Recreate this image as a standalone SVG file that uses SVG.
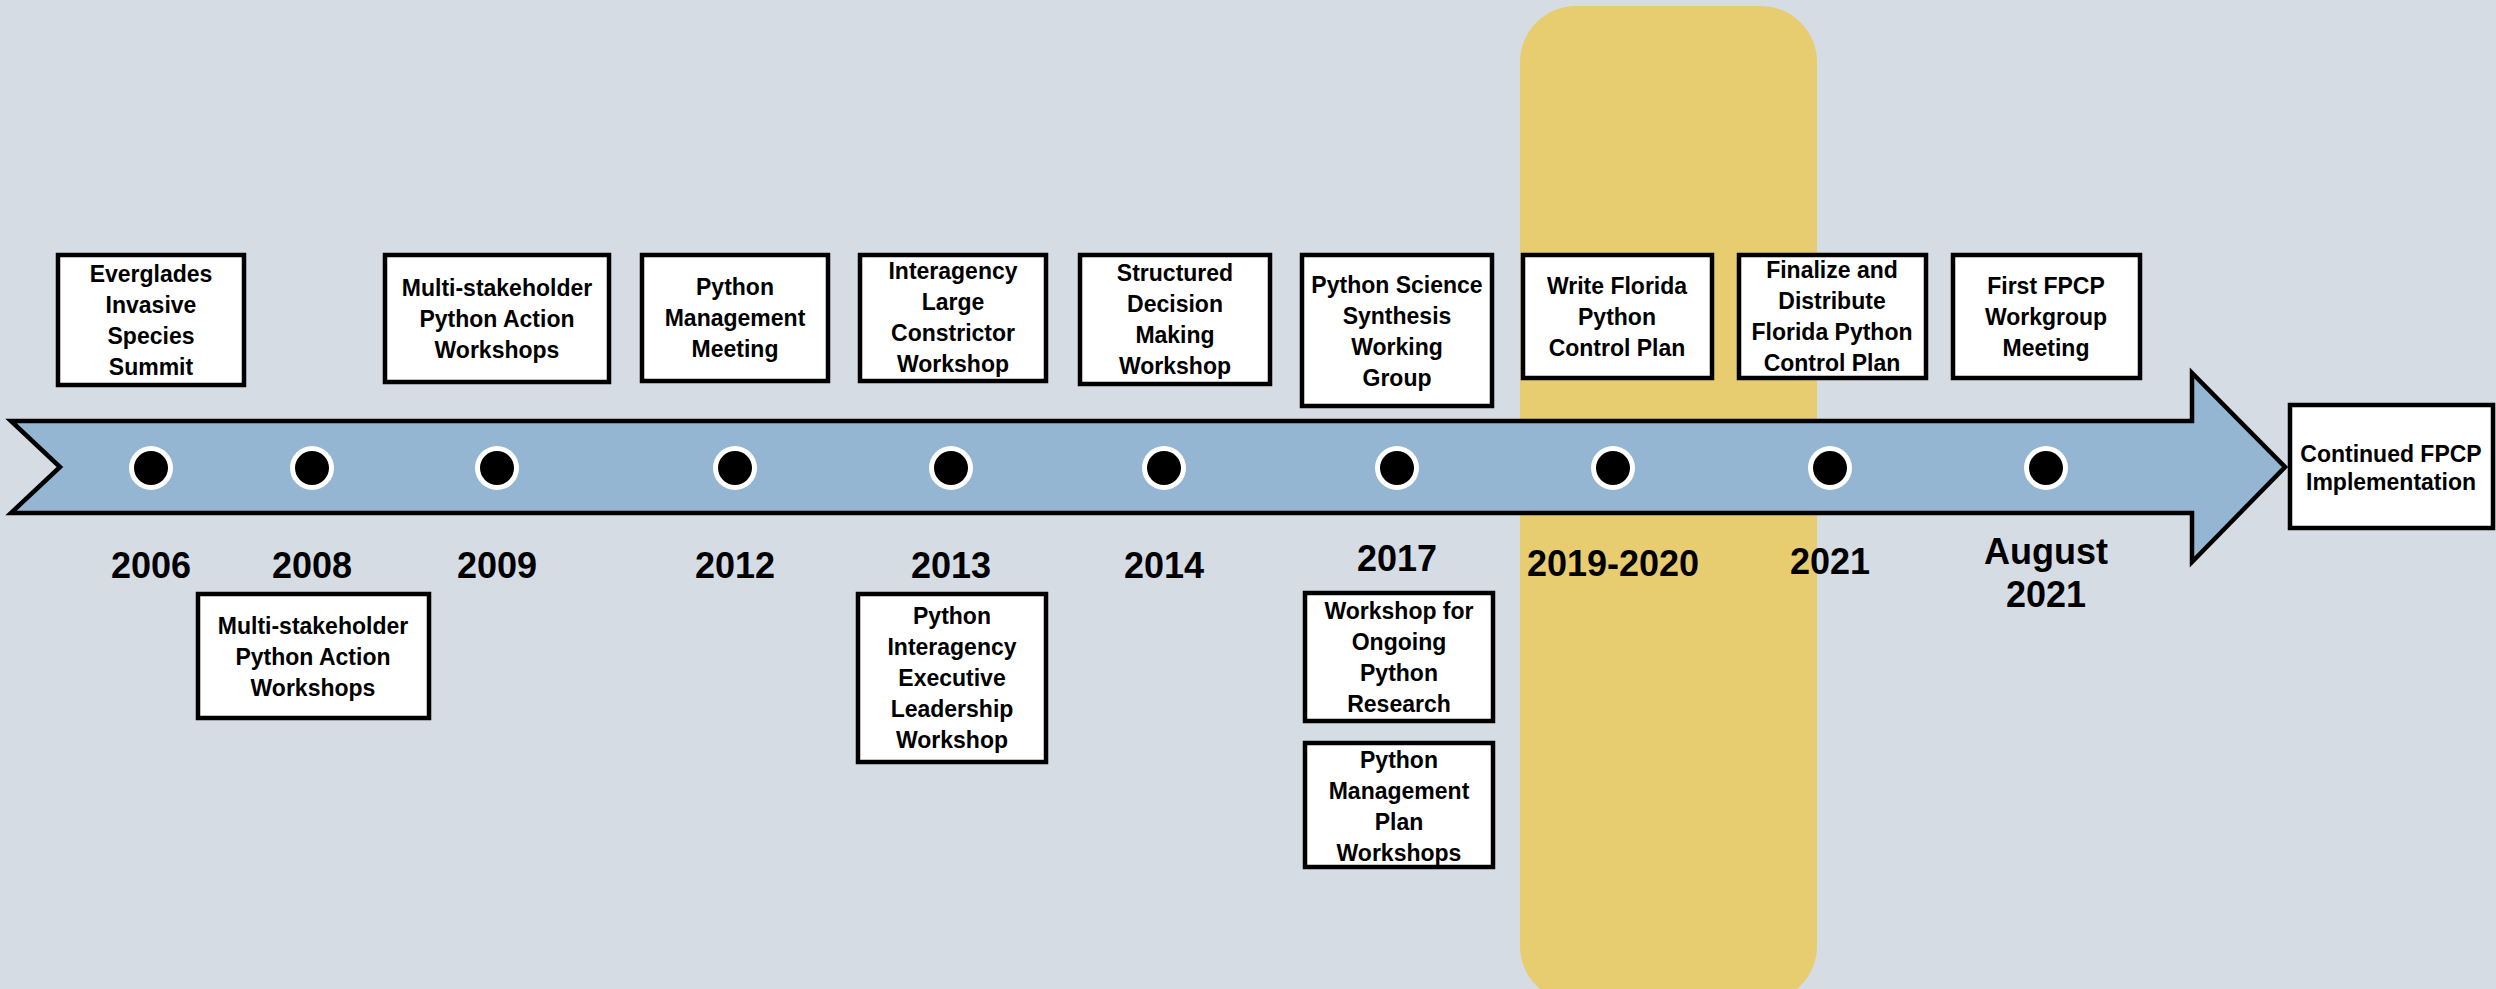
<svg xmlns="http://www.w3.org/2000/svg" width="2496" height="989" viewBox="0 0 2496 989">
<style>
.bg{fill:#D5DCE4}
.band{fill:#E7CD70}
.arrow{fill:#94B6D3;stroke:#000;stroke-width:4.5;stroke-linejoin:miter}
.box rect{fill:#fff;stroke:#000;stroke-width:4.5}
.box text,.yr{font-family:"Liberation Sans",Arial,sans-serif;font-weight:bold;fill:#000;text-anchor:middle}
.box text{font-size:23px}
.yr{font-size:36px}
.ring{fill:#fff}
.dot{fill:#000}
</style>
<rect class="bg" x="0" y="0" width="2496" height="989"/>
<rect class="band" x="1520" y="6" width="297" height="996" rx="56" ry="56"/>

<g id="connectors">
<polygon class="arrow" points="11,421 2192,421 2192,373 2285,467 2192,562 2192,513 11,513 60,467"/>
</g>

<g id="dots">
<g id="dot-2006"><circle class="ring" cx="151" cy="468" r="22"/><circle class="dot" cx="151" cy="468" r="17"/></g>
<g id="dot-2008"><circle class="ring" cx="312" cy="468" r="22"/><circle class="dot" cx="312" cy="468" r="17"/></g>
<g id="dot-2009"><circle class="ring" cx="497" cy="468" r="22"/><circle class="dot" cx="497" cy="468" r="17"/></g>
<g id="dot-2012"><circle class="ring" cx="735" cy="468" r="22"/><circle class="dot" cx="735" cy="468" r="17"/></g>
<g id="dot-2013"><circle class="ring" cx="951" cy="468" r="22"/><circle class="dot" cx="951" cy="468" r="17"/></g>
<g id="dot-2014"><circle class="ring" cx="1164" cy="468" r="22"/><circle class="dot" cx="1164" cy="468" r="17"/></g>
<g id="dot-2017"><circle class="ring" cx="1397" cy="468" r="22"/><circle class="dot" cx="1397" cy="468" r="17"/></g>
<g id="dot-2019"><circle class="ring" cx="1613" cy="468" r="22"/><circle class="dot" cx="1613" cy="468" r="17"/></g>
<g id="dot-2021"><circle class="ring" cx="1830" cy="468" r="22"/><circle class="dot" cx="1830" cy="468" r="17"/></g>
<g id="dot-aug2021"><circle class="ring" cx="2046" cy="468" r="22"/><circle class="dot" cx="2046" cy="468" r="17"/></g>
</g>

<g id="years">
<text class="yr" x="151" y="578">2006</text>
<text class="yr" x="312" y="578">2008</text>
<text class="yr" x="497" y="578">2009</text>
<text class="yr" x="735" y="578">2012</text>
<text class="yr" x="951" y="578">2013</text>
<text class="yr" x="1164" y="578">2014</text>
<text class="yr" x="1397" y="571">2017</text>
<text class="yr" x="1613" y="576">2019-2020</text>
<text class="yr" x="1830" y="574">2021</text>
<text class="yr" x="2046" y="564">August</text>
<text class="yr" x="2046" y="607">2021</text>
</g>

<g id="n-everglades" class="box">
<rect x="58" y="255" width="186" height="130"/>
<text x="151" y="282">Everglades</text>
<text x="151" y="313">Invasive</text>
<text x="151" y="344">Species</text>
<text x="151" y="375">Summit</text>
</g>
<g id="n-2008" class="box">
<rect x="198" y="594" width="231" height="124"/>
<text x="313" y="634">Multi-stakeholder</text>
<text x="313" y="665">Python Action</text>
<text x="313" y="696">Workshops</text>
</g>
<g id="n-2009" class="box">
<rect x="385" y="255" width="224" height="127"/>
<text x="497" y="296">Multi-stakeholder</text>
<text x="497" y="327">Python Action</text>
<text x="497" y="358">Workshops</text>
</g>
<g id="n-2012" class="box">
<rect x="642" y="255" width="186" height="126"/>
<text x="735" y="295">Python</text>
<text x="735" y="326">Management</text>
<text x="735" y="357">Meeting</text>
</g>
<g id="n-2013a" class="box">
<rect x="860" y="255" width="186" height="126"/>
<text x="953" y="279">Interagency</text>
<text x="953" y="310">Large</text>
<text x="953" y="341">Constrictor</text>
<text x="953" y="372">Workshop</text>
</g>
<g id="n-2013b" class="box">
<rect x="858" y="594" width="188" height="168"/>
<text x="952" y="624">Python</text>
<text x="952" y="655">Interagency</text>
<text x="952" y="686">Executive</text>
<text x="952" y="717">Leadership</text>
<text x="952" y="748">Workshop</text>
</g>
<g id="n-2014" class="box">
<rect x="1080" y="255" width="190" height="129"/>
<text x="1175" y="281">Structured</text>
<text x="1175" y="312">Decision</text>
<text x="1175" y="343">Making</text>
<text x="1175" y="374">Workshop</text>
</g>
<g id="n-2017a" class="box">
<rect x="1302" y="255" width="190" height="151"/>
<text x="1397" y="293">Python Science</text>
<text x="1397" y="324">Synthesis</text>
<text x="1397" y="355">Working</text>
<text x="1397" y="386">Group</text>
</g>
<g id="n-2017b" class="box">
<rect x="1305" y="593" width="188" height="128"/>
<text x="1399" y="619">Workshop for</text>
<text x="1399" y="650">Ongoing</text>
<text x="1399" y="681">Python</text>
<text x="1399" y="712">Research</text>
</g>
<g id="n-2017c" class="box">
<rect x="1305" y="743" width="188" height="124"/>
<text x="1399" y="768">Python</text>
<text x="1399" y="799">Management</text>
<text x="1399" y="830">Plan</text>
<text x="1399" y="861">Workshops</text>
</g>
<g id="n-2019" class="box">
<rect x="1523" y="255" width="189" height="123"/>
<text x="1617" y="294">Write Florida</text>
<text x="1617" y="325">Python</text>
<text x="1617" y="356">Control Plan</text>
</g>
<g id="n-2021" class="box">
<rect x="1739" y="255" width="187" height="123"/>
<text x="1832" y="278">Finalize and</text>
<text x="1832" y="309">Distribute</text>
<text x="1832" y="340">Florida Python</text>
<text x="1832" y="371">Control Plan</text>
</g>
<g id="n-aug2021" class="box">
<rect x="1953" y="255" width="187" height="123"/>
<text x="2046" y="294">First FPCP</text>
<text x="2046" y="325">Workgroup</text>
<text x="2046" y="356">Meeting</text>
</g>
<g id="n-continued" class="box">
<rect x="2290" y="405" width="203" height="123"/>
<text x="2391" y="462">Continued FPCP</text>
<text x="2391" y="490">Implementation</text>
</g>
</svg>
